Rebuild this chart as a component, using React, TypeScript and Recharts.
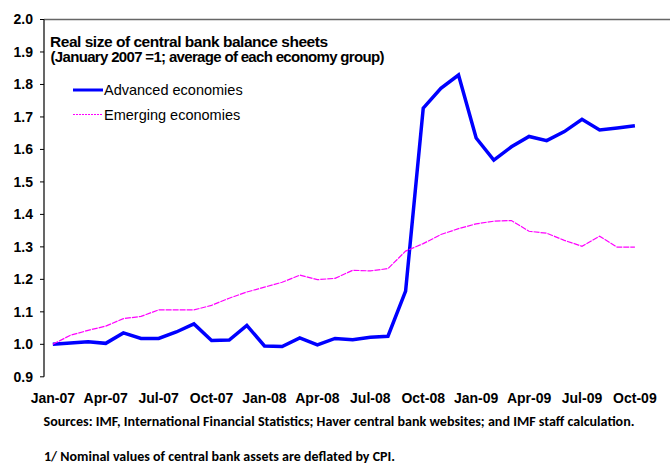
import { LineChart, Line, XAxis, YAxis, Legend, ReferenceLine } from 'recharts'

const months = [
  'Jan-07', 'Feb-07', 'Mar-07', 'Apr-07', 'May-07', 'Jun-07', 'Jul-07', 'Aug-07', 'Sep-07', 'Oct-07', 'Nov-07', 'Dec-07',
  'Jan-08', 'Feb-08', 'Mar-08', 'Apr-08', 'May-08', 'Jun-08', 'Jul-08', 'Aug-08', 'Sep-08', 'Oct-08', 'Nov-08', 'Dec-08',
  'Jan-09', 'Feb-09', 'Mar-09', 'Apr-09', 'May-09', 'Jun-09', 'Jul-09', 'Aug-09', 'Sep-09', 'Oct-09', 'Nov-09', 'Dec-09',
]

const advanced = [
  1.0, 1.004, 1.008, 1.003, 1.035, 1.018, 1.018, 1.038, 1.063, 1.012, 1.013, 1.058,
  0.995, 0.993, 1.02, 0.998, 1.018, 1.014, 1.022, 1.025, 1.164, 1.727, 1.788, 1.829,
  1.635, 1.567, 1.608, 1.64, 1.627, 1.655, 1.693, 1.66, 1.666, 1.673, null, null,
]

const emerging = [
  1.0, 1.028, 1.043, 1.056, 1.079, 1.086, 1.106, 1.106, 1.106, 1.12, 1.142, 1.161,
  1.176, 1.191, 1.213, 1.199, 1.203, 1.228, 1.226, 1.233, 1.287, 1.31, 1.338, 1.356,
  1.371, 1.379, 1.381, 1.348, 1.342, 1.32, 1.302, 1.333, 1.299, 1.299, null, null,
]

const yTicks = [0.9, 1.0, 1.1, 1.2, 1.3, 1.4, 1.5, 1.6, 1.7, 1.8, 1.9, 2.0]
const labelTicks = [0, 3, 6, 9, 12, 15, 18, 21, 24, 27, 30, 33]
const boundaryTicks = [-0.5, 2.5, 5.5, 8.5, 11.5, 14.5, 17.5, 20.5, 23.5, 26.5, 29.5, 32.5, 35.5]

const data = months.map((month, idx) => ({
  idx,
  month,
  advanced: advanced[idx],
  emerging: emerging[idx],
}))

const seriesStyle: Record<string, { stroke: string; width: number; dash?: string }> = {
  advanced: { stroke: '#0000ff', width: 3.5 },
  emerging: { stroke: '#ff00ff', width: 1.2, dash: '6 1' },
}

const sans = '"Liberation Sans", Arial, sans-serif'
const axisFont = { fill: '#000', fontSize: 14, fontWeight: 'bold', fontFamily: sans }

function LegendBox({ payload }: any) {
  return (
    <svg width={180} height={48} style={{ display: 'block', background: '#fff' }}>
      {(payload || []).map((entry: any, i: number) => {
        const s = seriesStyle[entry.dataKey]
        const y = 12 + i * 24.5
        return (
          <g key={entry.dataKey}>
            <line x1={5} x2={35} y1={y} y2={y} stroke={s.stroke} strokeWidth={s.dash ? 1.2 : 3} strokeDasharray={s.dash ? '2 1' : undefined} />
            <text x={36} y={y + 5} fontSize={14.5} fontFamily={sans} fill="#000">
              {entry.value}
            </text>
          </g>
        )
      })}
    </svg>
  )
}

export default function App() {
  return (
    <div style={{ position: 'absolute', left: 0, top: 0, width: 670, height: 463, overflow: 'hidden', background: '#fff' }}>
      <LineChart width={690} height={463} data={data} margin={{ top: 19.5, right: 11, left: 0, bottom: 56.2 }}>
        <XAxis
          xAxisId="grid"
          dataKey="idx"
          type="number"
          domain={[-0.5, 35.5]}
          allowDataOverflow
          ticks={boundaryTicks}
          interval={0}
          tick={false}
          mirror
          tickSize={4}
          height={0}
          axisLine={{ stroke: '#000', strokeWidth: 1.2 }}
          tickLine={{ stroke: '#000' }}
        />
        <XAxis
          xAxisId="main"
          dataKey="idx"
          type="number"
          domain={[-0.5, 35.5]}
          allowDataOverflow
          ticks={labelTicks}
          interval={0}
          tickFormatter={(v: number) => months[v]}
          tickLine={false}
          axisLine={false}
          tickSize={6}
          tickMargin={10}
          height={30}
          tick={axisFont}
        />
        <YAxis
          type="number"
          domain={[0.9, 2.0]}
          allowDataOverflow
          ticks={yTicks}
          interval={0}
          tickFormatter={(v: number) => v.toFixed(1)}
          width={44}
          tickSize={4}
          tickMargin={7}
          axisLine={{ stroke: '#000', strokeWidth: 1.2 }}
          tickLine={{ stroke: '#000' }}
          tick={axisFont}
        />
        <ReferenceLine xAxisId="main" y={2.0} stroke="#666" strokeWidth={1.5} />
        <Legend
          layout="horizontal"
          verticalAlign="middle"
          align="center"
          wrapperStyle={{ left: 68, top: 78, width: 180, height: 48 }}
          content={<LegendBox />}
        />
        <Line
          xAxisId="main"
          type="linear"
          dataKey="advanced"
          name="Advanced economies"
          stroke={seriesStyle.advanced.stroke}
          strokeWidth={seriesStyle.advanced.width}
          dot={false}
          activeDot={false}
          isAnimationActive={false}
        />
        <Line
          xAxisId="main"
          type="linear"
          dataKey="emerging"
          name="Emerging economies"
          stroke={seriesStyle.emerging.stroke}
          strokeWidth={seriesStyle.emerging.width}
          strokeDasharray={seriesStyle.emerging.dash}
          dot={false}
          activeDot={false}
          isAnimationActive={false}
        />
      </LineChart>
      <svg width={670} height={463} style={{ position: 'absolute', left: 0, top: 0, pointerEvents: 'none' }}>
        <text x={50} y={46.5} fontSize={15.5} fontWeight="bold" fontFamily={sans} textLength={278} lengthAdjust="spacing">
          Real size of central bank balance sheets
        </text>
        <text x={50.5} y={62} fontSize={15} fontWeight="bold" fontFamily={sans} textLength={334} lengthAdjust="spacing">
          (January 2007 =1; average of each economy group)
        </text>
        <text x={43.5} y={426} fontSize={13} fontWeight="bold" fontFamily='Carlito, Lato, sans-serif' textLength={591} lengthAdjust="spacingAndGlyphs">
          Sources: IMF, International Financial Statistics; Haver central bank websites; and IMF staff calculation.
        </text>
        <text x={44} y={461} fontSize={13} fontWeight="bold" fontFamily='Carlito, Lato, sans-serif' textLength={351} lengthAdjust="spacingAndGlyphs">
          1/ Nominal values of central bank assets are deflated by CPI.
        </text>
      </svg>
    </div>
  )
}
